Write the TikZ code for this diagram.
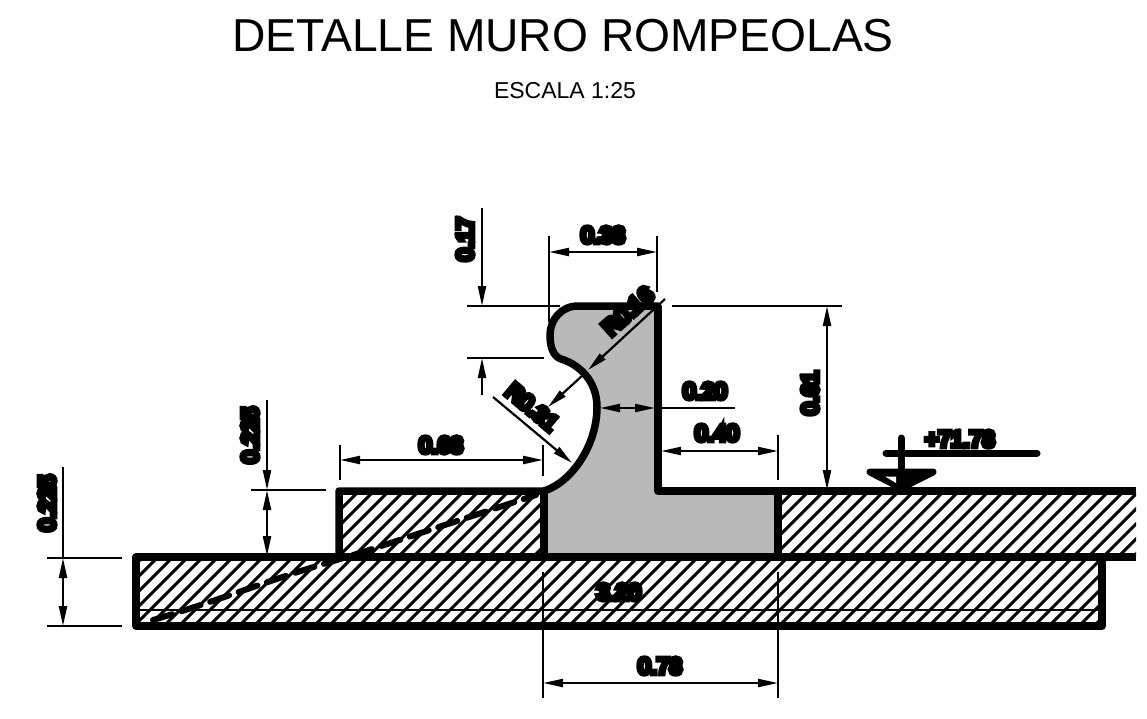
\documentclass[tikz,border=0pt]{standalone}
\usepackage{fontspec}
\setmainfont{Liberation Sans}
\newfontfamily\dimfont[FakeBold=24]{Liberation Sans}
\usetikzlibrary{arrows.meta}
\definecolor{wallgray}{HTML}{B9B9B9}
\tikzset{
  x=1pt,y=-1pt,
  outline/.style={line width=7.5pt,line join=round,line cap=round},
  thin dim/.style={line width=2.2pt},
  dimline/.style={line width=2.2pt,{Triangle[length=20pt,width=8pt]}-{Triangle[length=20pt,width=8pt]}},
  endarrow/.style={line width=2.2pt,-{Triangle[length=20pt,width=8pt]}},
  hatchline/.style={line width=3pt},
  dimtext/.style={font=\dimfont\fontsize{22.5}{22.5}\selectfont,inner sep=0pt},
}
\begin{document}
\begin{tikzpicture}
\useasboundingbox (0,0) rectangle (1147,719);
% hatching
\begin{scope}
\clip (339,491) rectangle (544,556) (136,558) rectangle (1102,627) (778,491) rectangle (1136,556);
\foreach \c in {0,15,...,1400}{\draw[hatchline] (\c,640) -- ++(200,-200);}
\end{scope}
\draw[line width=2.5pt] (136,610) -- (1102,610);
% wall
\path[fill=wallgray] (658,306) -- (578,306) .. controls (561,306) and (550,320) .. (550,335) .. controls (550,347) and (553,356) .. (561,359) .. controls (578,364) and (597,380) .. (597,407) .. controls (597,445) and (572,482) .. (544,491) -- (544,556) -- (778,556) -- (778,491) -- (658,491) -- cycle;
% dashed
\draw[line width=6pt,line cap=round,dash pattern=on 20pt off 10pt] (153,620) .. controls (220,600) and (270,580) .. (317,566) -- (363,552) -- (536,495);
% outlines
\draw[outline] (658,306) -- (578,306) .. controls (561,306) and (550,320) .. (550,335) .. controls (550,347) and (553,356) .. (561,359) .. controls (578,364) and (597,380) .. (597,407) .. controls (597,445) and (572,482) .. (544,491) -- (339,491) -- (339,556);
\draw[outline,line cap=butt] (658,306) -- (658,491) -- (1136,491);
\draw[outline] (544,491) -- (544,556);
\draw[outline] (778,491) -- (778,556);
\draw[outline,line cap=butt] (1136,557) -- (136,557) -- (136,626) -- (1102,626) -- (1102,557);
% extension lines
\draw[thin dim] (549,236) -- (549,322);
\draw[thin dim] (657,236) -- (657,292);
\draw[thin dim] (467,306) -- (560,306);
\draw[thin dim] (467,358) -- (544,358);
\draw[thin dim] (672,306) -- (842,306);
\draw[thin dim] (778,435) -- (778,480);
\draw[thin dim] (340,445) -- (340,480);
\draw[thin dim] (543,445) -- (543,476);
\draw[thin dim] (251,490) -- (326,490);
\draw[thin dim] (47,558) -- (122,558);
\draw[thin dim] (47,626) -- (122,626);
\draw[thin dim] (543,572) -- (543,698);
\draw[thin dim] (778,572) -- (778,698);
% dimensions
\draw[dimline] (549,252) -- (657,252);
\draw[endarrow] (482,208) -- (482,306);
\draw[endarrow] (482,395) -- (482,358);
\draw[endarrow] (665,299) -- (588,370);
\draw[endarrow] (583,375) -- (548,407);
\draw[endarrow] (493,397) -- (572,463);
\draw[dimline] (600,408) -- (655,408);
\draw[thin dim] (655,408) -- (735,408);
\draw[dimline] (661,451) -- (778,451);
\draw[dimline] (827,306) -- (827,490);
\draw[dimline] (340,460) -- (543,460);
\draw[endarrow] (267,400) -- (267,490);
\draw[dimline] (267,490) -- (267,556);
\draw[thin dim] (63,467) -- (63,558);
\draw[dimline] (63,558) -- (63,626);
\draw[dimline] (543,683) -- (778,683);
% level marker
\draw[line width=7pt,line cap=round] (886,453) -- (1037,453);
\draw[line width=7pt,line join=round,fill=black] (870,472) -- (933,472) -- (901,488) -- cycle;
\fill[white] (885,476.5) -- (896,476.5) -- (896,483) -- cycle;
\draw[line width=7pt,line cap=round] (901,438) -- (901,488);
% labels
\node[font=\fontsize{46.2}{46.2}\selectfont,inner sep=0pt] (title) at (563,36) {DETALLE MURO ROMPEOLAS};
\node[font=\fontsize{23}{23}\selectfont,inner sep=0pt] (scale) at (565,91) {ESCALA 1:25};
\node[dimtext] (a) at (603,235) {0.38};
\node[dimtext,rotate=90] (b) at (465,239) {0.17};
\node[dimtext,rotate=42] (c) at (628,311) {R0.16};
\node[dimtext,rotate=-40] (d) at (532,407) {R0.31};
\node[dimtext] (e) at (705,391) {0.20};
\node[dimtext] (f) at (717,433) {0.40};
\node[dimtext,rotate=90] (g) at (810,393) {0.61};
\node[dimtext] (h) at (441,445) {0.68};
\node[dimtext,rotate=90] (i) at (250,435) {0.225};
\node[dimtext,rotate=90] (j) at (47,503) {0.225};
\node[dimtext] (k) at (660,666) {0.78};
\node[dimtext] (l) at (619,592) {3.20};
\node[dimtext] (m) at (960,439) {+71.78};
\end{tikzpicture}
\end{document}
